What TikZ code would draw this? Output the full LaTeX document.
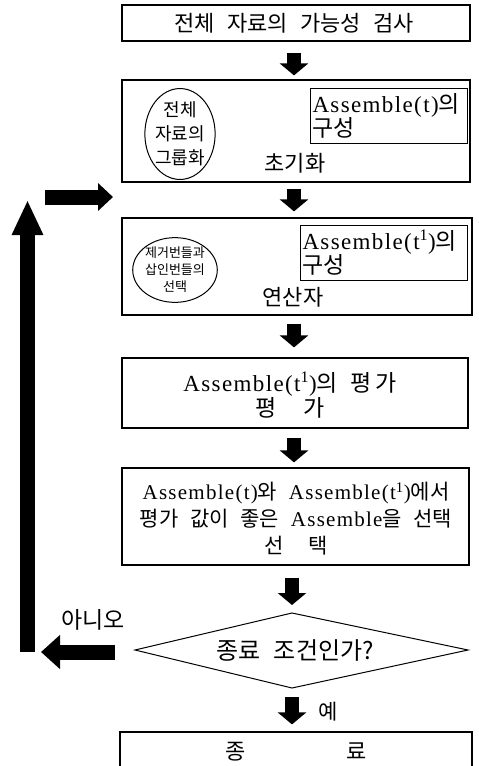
\documentclass[tikz,border=0pt]{standalone}
\usepackage{fontspec}
\setmainfont[LetterSpace=6]{Liberation Serif}
\newfontfamily\kr[WordSpace=2.5]{Noto Sans CJK KR}
\usetikzlibrary{arrows.meta,shapes.geometric,calc}
\newcommand{\asm}[1]{{\rmfamily Assemble(#1)}}
\newcommand{\tone}{t\textsuperscript{1}}
\begin{document}
\begin{tikzpicture}[x=1pt,y=-1pt,
  box/.style={draw, line width=1.2pt, inner sep=0pt},
  ibox/.style={draw, line width=1pt, inner sep=2pt, anchor=north west, align=left},
  circ/.style={draw, ellipse, line width=1pt, inner sep=0pt, align=center},
  txt/.style={inner sep=0pt, align=center, font=\kr\fontsize{22}{26}\selectfont},
  barr/.style={line width=14pt, -{Triangle[length=12pt,width=28pt]}},
  loopbar/.style={line width=15pt}
]
\useasboundingbox (0,0) rectangle (479,766);
\clip (0,0) rectangle (479,766);

% top box
\node[box, minimum width=348pt, minimum height=36pt] (top) at (296,23) {};
\node[txt] (toptxt) at (294,23) {전체 자료의 가능성 검사};

% init box
\node[box, minimum width=348pt, minimum height=102pt] (b2) at (296,131) {};
\node[circ, minimum width=70pt, minimum height=83pt,
      font=\kr\fontsize{18}{24}\selectfont] (c1) at (180,134) {전체\\자료의\\그룹화};
\node[ibox, minimum width=157pt, minimum height=55pt, text width=153pt,
      font=\kr\fontsize{23}{24}\selectfont] (i1) at (310,88) {\asm{t}의\\구성};
\node[txt] (l2) at (295,163) {초기화};

% operator box
\node[box, minimum width=350pt, minimum height=97pt] (b3) at (297,266.5) {};
\node[circ, minimum width=74pt, minimum height=60pt,
      font=\kr\fontsize{13}{17}\selectfont] (c2) at (175,270) {제거번들과\\삽인번들의\\선택};
\node[ibox, minimum width=167pt, minimum height=55pt, text width=163pt,
      font=\kr\fontsize{23}{24}\selectfont] (i2) at (300,225) {{\rmfamily Assemble(\tone)}의\\구성};
\node[txt] (l3) at (293,297) {연산자};

% evaluation box
\node[box, minimum width=346pt, minimum height=70pt] (b4) at (295,393) {};
\node[txt, font=\kr\fontsize{23}{25}\selectfont] (l4) at (290,395) {{\rmfamily Assemble(\tone)}의 평\hspace{0.15em}가\\평\hspace{1.2em}가};

% selection box
\node[box, minimum width=347pt, minimum height=97pt] (b5) at (295.5,516.5) {};
\node[txt, font=\kr\fontsize{21}{27}\selectfont] (l5) at (296,519) {\asm{t}와 {\rmfamily Assemble(\tone)}에서\\평가 값이 좋은 {\rmfamily Assemble}을 선택\\선\hspace{1.2em}택};

% decision diamond
\coordinate (dl) at (135,650);
\coordinate (dt) at (292,613);
\coordinate (dr) at (468,650);
\coordinate (db) at (292,688);
\draw[line width=1pt] (dl) -- (dt) -- (dr) -- (db) -- cycle;
\node[txt, font=\kr\fontsize{24}{26}\selectfont] (cond) at (295,650) {종료 조건인가?};

% end box
\node[box, minimum width=352pt, minimum height=60pt] (endb) at (296,762) {};
\node[txt] (endtxt) at (296,752) {종\hspace{101pt}료};

% labels
\node[txt, font=\kr\fontsize{23}{24}\selectfont] (no) at (93,620) {아니오};
\node[txt, font=\kr\fontsize{21}{24}\selectfont] (yes) at (328,712) {예};

% main flow arrows
\draw[barr] ($(top.south)+(-2,11)$) -- ($(b2.north)+(-2,-4)$);
\draw[barr] ($(b2.south)+(-2,6)$) -- ($(b3.north)+(-3,-6)$);
\draw[barr] ($(b3.south)+(-3,8)$) -- ($(b4.north)+(-1,-10)$);
\draw[barr] ($(b4.south)+(-1,9)$) -- ($(b5.north)+(-1.5,-5)$);
\draw[barr] ($(b5.south)+(-3.5,12)$) -- ($(dt)+(0,-8)$);
\draw[barr] ($(db)+(0,9)$) -- ($(endb.north)+(-4,-7)$);

% loop back
\coordinate (ltip) at (41,652);
\coordinate (vbot) at (27.5,652);
\coordinate (vtip) at (27.5,200);
\coordinate (rstart) at (45,197);
\coordinate (rtip) at (113,197);
\draw[loopbar, -{Triangle[length=19pt,width=33pt]}] ($(dl)+(-20,2)$) -- (ltip);
\draw[loopbar, -{Triangle[length=35pt,width=29pt]}] (vbot) -- (vtip);
\draw[loopbar, -{Triangle[length=15pt,width=27pt]}] (rstart) -- (rtip);
\end{tikzpicture}
\end{document}
